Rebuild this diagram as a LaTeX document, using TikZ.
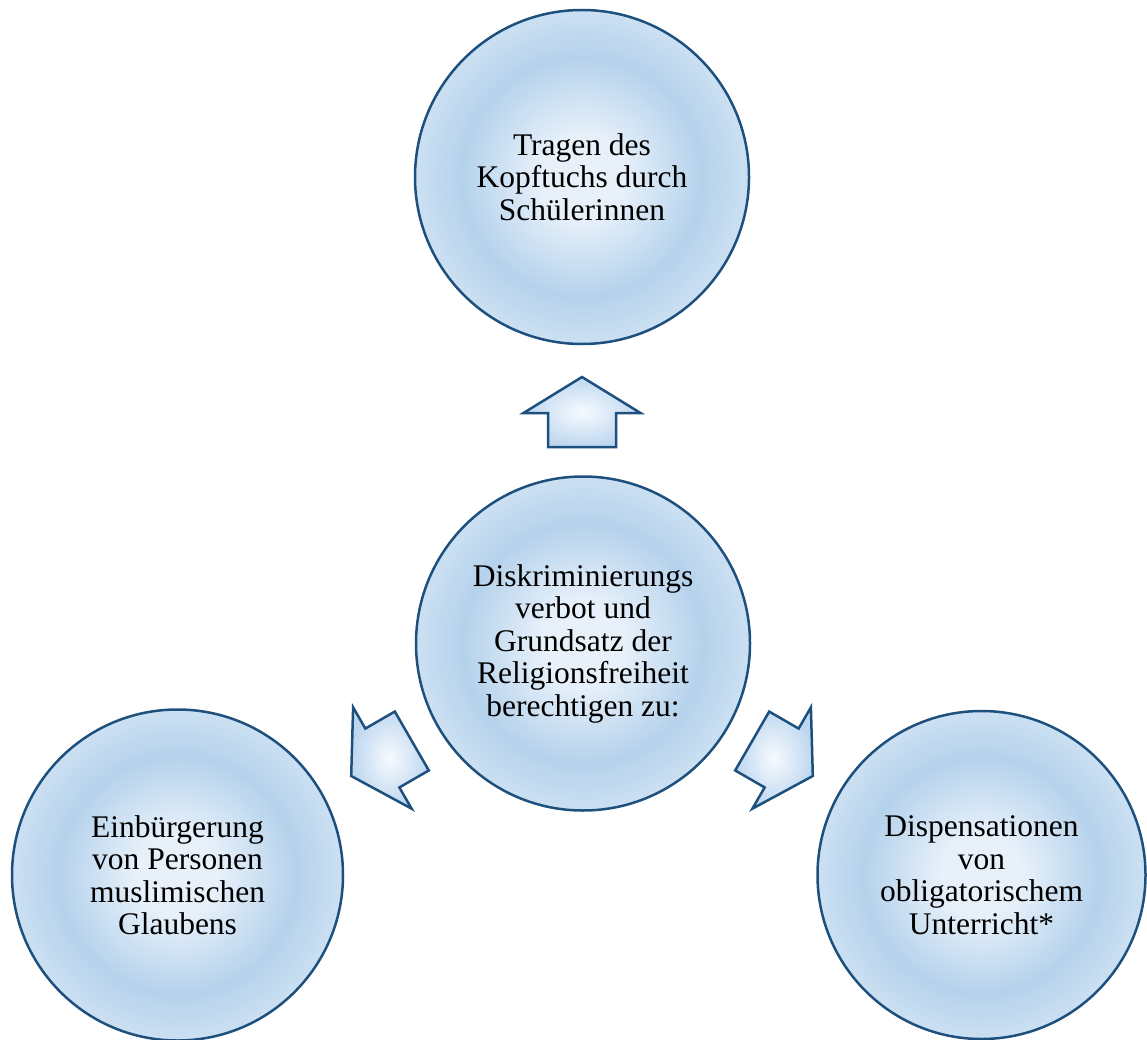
\documentclass[tikz,border=0pt]{standalone}
\usepackage{fontspec}
\setmainfont{Liberation Serif}
\definecolor{edge}{RGB}{30,80,125}
\definecolor{cA}{RGB}{232,241,250}
\definecolor{cB}{RGB}{181,210,236}
\definecolor{cC}{RGB}{204,224,242}
\definecolor{aA}{RGB}{246,250,254}
\definecolor{aB}{RGB}{190,215,240}
\pgfdeclareradialshading{circshade}{\pgfpoint{0bp}{0bp}}{color(0bp)=(cA); color(6bp)=(cA); color(18bp)=(cB); color(25bp)=(cC); color(50bp)=(cC)}
\pgfdeclareradialshading{arrshade}{\pgfpoint{0bp}{0bp}}{color(0bp)=(aA); color(25bp)=(aB); color(50bp)=(aB)}
\begin{document}
\begin{tikzpicture}[x=1pt,y=-1pt,
  bubble/.style={circle, draw=edge, line width=2.5pt, shade, shading=circshade,
    align=center, inner sep=0pt, font=\fontsize{31.5}{32.5}\selectfont, text=black},
  blockarrow/.style={draw=edge, line width=2.5pt, line join=miter, shading=arrshade}]
\useasboundingbox (0,0) rectangle (1147,1040);
\node[bubble, minimum size=334pt] (topc) at (582,177) {Tragen des\\Kopftuchs durch\\Schülerinnen};
\node[bubble, minimum size=334pt] (mid) at (583,643.5) {Diskriminierungs\\verbot und\\Grundsatz der\\Religionsfreiheit\\berechtigen zu:};
\node[bubble, minimum size=331pt] (leftc) at (177.5,875) {Einbürgerung\\von Personen\\muslimischen\\Glaubens};
\node[bubble, minimum size=328pt] (rightc) at (981.5,875) {Dispensationen\\von\\obligatorischem\\Unterricht*};
\foreach \ang/\px/\py in {0/582/412, 120/381.5/758.5, -120/782.5/758.5}{
  \begin{scope}[shift={(\px,\py)}, rotate=\ang]
    \shadedraw[blockarrow] (0,-35) -- (58.5,1) -- (34,1) -- (34,35) -- (-34,35) -- (-34,1) -- (-58.5,1) -- cycle;
  \end{scope}
}
\end{tikzpicture}
\end{document}
